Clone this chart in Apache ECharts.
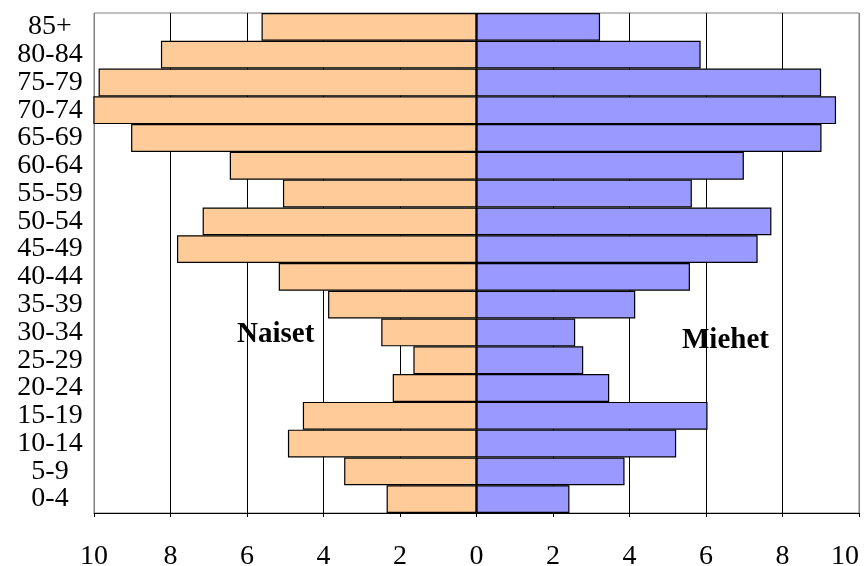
<!DOCTYPE html>
<html>
<head>
<meta charset="utf-8">
<script src="https://cdn.jsdelivr.net/npm/echarts@6/dist/echarts.min.js"></script>
<style>
html,body{margin:0;padding:0;background:#fff;}
#chart{width:865px;height:566px;}
</style>
</head>
<body>
<div id="chart"></div>
<script>
const categories = ['0-4','5-9','10-14','15-19','20-24','25-29','30-34','35-39','40-44','45-49','50-54','55-59','60-64','65-69','70-74','75-79','80-84','85+'];
const naiset = [2.35, 3.46, 4.93, 4.54, 2.19, 1.65, 2.49, 3.88, 5.17, 7.83, 7.16, 5.06, 6.45, 9.03, 10.05, 9.88, 8.25, 5.62];
const miehet = [2.43, 3.87, 5.22, 6.04, 3.47, 2.79, 2.58, 4.15, 5.58, 7.35, 7.71, 5.63, 6.99, 9.02, 9.40, 9.01, 5.86, 3.23];
const xTicks = [-10, -8, -6, -4, -2, 0, 2, 4, 6, 8, 10];

const serif = "'Liberation Serif', 'Times New Roman', serif";
const chart = echarts.init(document.getElementById('chart'), null, {renderer: 'canvas'});

const splitColors = xTicks.map(function (v) { return (v === -10 || v === 10) ? '#808080' : '#000000'; });

chart.setOption({
  animation: false,
  backgroundColor: '#ffffff',
  grid: {
    left: 94, right: 6, top: 13, bottom: 53,
    outerBoundsMode: 'none', containLabel: false,
    show: true, borderColor: '#808080', borderWidth: 1, backgroundColor: 'transparent'
  },
  xAxis: {
    type: 'value',
    min: xTicks[0], max: xTicks[xTicks.length - 1], interval: 2,
    axisLine: {show: true, onZero: false, lineStyle: {color: '#000', width: 1}},
    axisTick: {show: true, length: 4, lineStyle: {color: '#000'}},
    splitLine: {show: true, lineStyle: {color: splitColors, width: 1}},
    axisLabel: {
      color: '#000', fontFamily: serif, fontSize: 28, margin: 30,
      alignMaxLabel: 'right',
      formatter: function (v) { return String(Math.abs(v)); }
    }
  },
  yAxis: {
    type: 'category',
    data: categories,
    axisLine: {show: false},
    axisTick: {show: false},
    splitLine: {show: false},
    axisLabel: {
      color: '#000', fontFamily: serif, fontSize: 28, margin: 44, align: 'center', interval: 0
    }
  },
  series: [
    {
      name: 'Naiset', type: 'bar', stack: 'p', barCategoryGap: '0%',
      data: naiset.map(function (v) { return -v; }),
      itemStyle: {color: '#FFCC99', borderColor: '#000', borderWidth: 1.2}
    },
    {
      name: 'Miehet', type: 'bar', stack: 'p', barCategoryGap: '0%',
      data: miehet,
      itemStyle: {color: '#9999FF', borderColor: '#000', borderWidth: 1.2}
    }
  ],
  graphic: [
    {type: 'text', left: 237, top: 320, z: 100,
     style: {text: 'Naiset', font: "bold 29px " + serif, fill: '#000'}},
    {type: 'text', left: 682, top: 326, z: 100,
     style: {text: 'Miehet', font: "bold 29px " + serif, fill: '#000'}}
  ]
});
</script>
</body>
</html>
